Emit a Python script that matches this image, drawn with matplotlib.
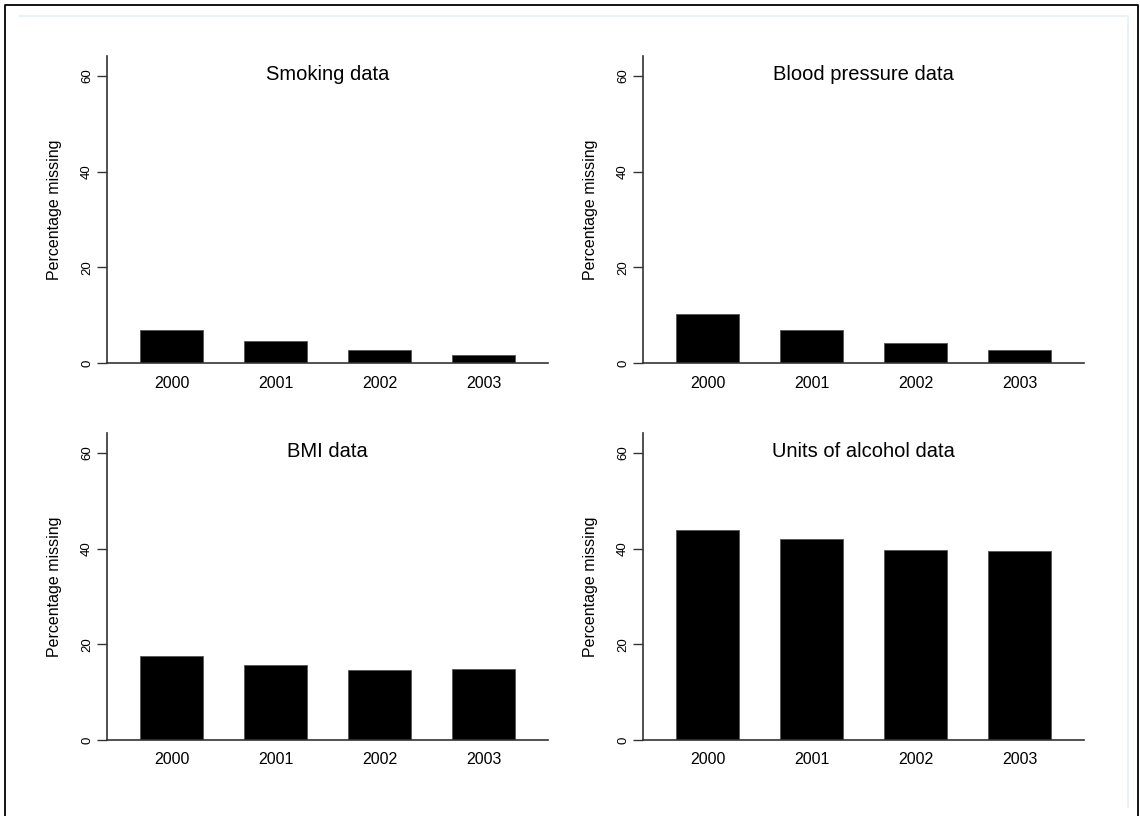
import matplotlib.pyplot as plt
from matplotlib.lines import Line2D

plt.rcParams['font.family'] = ['Liberation Sans', 'DejaVu Sans']

years = ['2000', '2001', '2002', '2003']
titles = ['Smoking data', 'Blood pressure data', 'BMI data', 'Units of alcohol data']
smoking = [6.8, 4.7, 2.8, 1.6]
blood_pressure = [10.2, 6.9, 4.1, 2.65]
bmi = [17.6, 15.7, 14.6, 14.85]
alcohol = [43.9, 42.0, 39.7, 39.6]
yticks = [0, 20, 40, 60]

W, H = 1140, 816
fig = plt.figure(figsize=(W / 100, H / 100), dpi=100)

# outer frames
fig.add_artist(Line2D([5 / W, 5 / W, 1138 / W, 1138 / W], [0, 1 - 5 / H, 1 - 5 / H, 0],
                      transform=fig.transFigure, color='black', lw=1.3))
fig.add_artist(Line2D([19 / W, 1128 / W, 1128 / W], [1 - 16 / H, 1 - 16 / H, 1 - 807 / H],
                      transform=fig.transFigure, color='#e8f0f3', lw=1.2))

# panel boxes in pixels: left, top
lefts = [107, 643, 107, 643]
tops = [56, 56, 433, 433]
pw, ph = 441, 307
data = [smoking, blood_pressure, bmi, alcohol]

x = range(len(years))
for i in range(4):
    ax = fig.add_axes([lefts[i] / W, 1 - (tops[i] + ph) / H, pw / W, ph / H])
    ax.bar(x, data[i], width=0.6, color='black', edgecolor='#555555', linewidth=0.6)
    ax.set_xlim(-0.62, 3.62)
    ax.set_ylim(0, 64.2)
    ax.set_xticks(list(x))
    ax.set_xticklabels(years, fontsize=11.5)
    ax.tick_params(axis='x', length=0, pad=9)
    ax.set_yticks(yticks)
    ax.set_yticklabels([str(t) for t in yticks], fontsize=9.5, rotation=90, va='center')
    ax.tick_params(axis='y', length=7, width=1, color='#333333', pad=3)
    for s in ['top', 'right']:
        ax.spines[s].set_visible(False)
    for s in ['left', 'bottom']:
        ax.spines[s].set_color('#333333')
        ax.spines[s].set_linewidth(1.2)
    ax.set_ylabel('Percentage missing', fontsize=11.5, labelpad=14)
    ax.text(0.5, 0.94, titles[i], transform=ax.transAxes, ha='center', va='center',
            fontsize=14.5)

fig.savefig('out.png', dpi=100)
